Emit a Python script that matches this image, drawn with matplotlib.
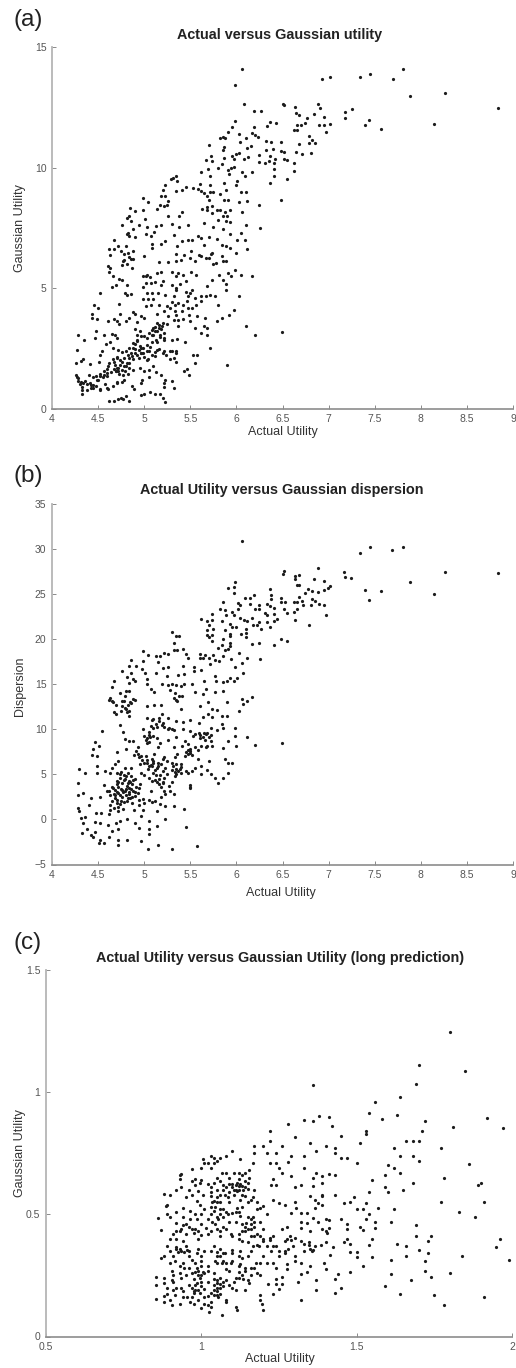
import matplotlib
matplotlib.use("Agg")
import matplotlib.pyplot as plt
import numpy as np

plt.rcParams['font.family'] = ['Liberation Sans', 'DejaVu Sans']

W, H = 516, 1368

# values, grouped by region of each panel
a_upper = [(6.06,14.08),(5.98,13.44),(6.93,13.69),(7.02,13.77),(7.34,13.77),(7.45,13.86),(7.70,13.68),(7.81,14.08),(7.88,12.96),(8.26,13.11),(8.84,12.48),(8.14,11.8),(7.57,11.61),(7.40,11.76),(7.44,11.97),(7.18,12.31),(7.25,12.41),(7.18,12.05),(6.08,12.62),(6.19,12.33),(6.27,12.36),(6.50,12.63),(6.52,12.59),(6.64,12.49),(6.65,12.27),(6.68,12.19),(6.89,12.62),(6.91,12.48),(6.84,12.23),(6.95,12.11),(6.77,12.04),(6.74,11.86),(6.70,11.76),(6.66,11.75),(6.90,11.75),(6.95,11.75),(7.02,11.82),(6.97,11.46),(5.98,11.94),(6.36,11.9),(6.43,11.86),(6.33,11.71),(6.19,11.69),(5.95,11.67),(5.91,11.47),(6.03,11.4),(6.17,11.45),(6.2,11.35),(6.23,11.27),(6.10,11.24),(5.82,11.24),(5.85,11.28),(5.88,11.23),(6.62,11.54),(6.66,11.54),(6.79,11.32),(6.82,11.13),(6.85,11.0),(6.79,11.03),(6.68,10.99),(6.04,11.05),(6.32,11.12),(6.38,11.05),(6.48,11.05),(5.70,10.92),(6.16,10.9),(6.11,10.8),(5.87,10.87),(5.86,10.73),(6.32,10.71),(6.40,10.76),(6.48,10.7),(6.52,10.66),(6.65,10.66),(6.71,10.55),(6.81,10.6),(6.24,10.52),(6.13,10.45),(6.03,10.59),(6.0,10.55),(5.95,10.48),(5.72,10.48),(5.73,10.28),(5.67,10.32),(5.87,10.39),(5.97,10.34),(6.08,10.34),(6.36,10.48),(6.42,10.36),(6.52,10.34),(6.55,10.32),(6.24,10.21),(6.31,10.18),(6.35,10.29),(6.41,10.18),(6.62,10.18),(6.63,9.86),(6.41,9.93),(6.41,9.66),(6.55,9.53),(6.36,9.34),(6.48,8.64),(6.24,8.46),(5.84,10.15),(5.80,10.0),(5.69,9.94),(5.62,9.83),(5.91,9.89),(5.94,9.97),(5.97,10.04),(6.17,9.81),(6.06,9.81),(6.09,9.66),(5.92,9.71),(5.71,9.63),(6.01,9.42),(6.0,9.27),(5.87,9.34),(5.71,9.28),(5.6,9.33),(5.34,9.63),(5.29,9.53),(5.31,9.56),(5.36,9.45),(5.23,9.27),(5.2,9.05),(5.18,8.8),(5.23,8.8),(5.26,8.61),(5.34,9.01),(5.41,9.05),(5.45,9.2),(5.53,9.15),(5.58,9.12),(5.62,9.04),(5.65,8.94),(5.68,8.8),(5.71,8.97),(5.75,9.0),(5.82,8.91),(5.89,9.05),(6.05,8.97),(6.10,8.98),(5.87,8.65),(5.91,8.65),(6.03,8.55),(6.12,8.59),(5.70,8.66)]
a_middle = [(4.99,8.73),(5.04,8.58),(4.85,8.32),(4.90,8.18),(4.99,8.25),(5.14,8.28),(5.17,8.43),(5.21,8.41),(5.25,8.43),(4.83,7.97),(4.81,7.9),(4.86,7.8),(5.01,7.87),(5.26,7.98),(5.38,8.0),(5.41,8.17),(4.76,7.62),(4.94,7.6),(5.03,7.53),(5.13,7.56),(5.18,7.62),(5.30,7.66),(5.38,7.53),(5.47,7.62),(4.88,7.44),(5.63,8.28),(5.68,8.36),(5.73,8.39),(5.68,8.22),(5.79,8.25),(5.82,8.22),(5.93,8.25),(5.73,8.11),(5.88,8.14),(6.06,8.15),(5.90,7.98),(5.85,7.98),(5.93,7.73),(5.80,7.84),(5.65,7.7),(5.89,7.77),(6.10,7.6),(6.26,7.5),(5.75,7.53),(5.85,7.45),(5.93,7.24),(4.81,7.24),(4.84,7.15),(4.90,7.1),(5.02,7.22),(5.07,7.15),(5.11,7.33),(5.32,7.19),(5.23,6.94),(5.18,6.83),(5.41,6.94),(5.47,6.98),(5.52,7.0),(5.58,7.17),(5.62,7.08),(5.70,7.12),(5.79,7.05),(6.01,6.98),(6.09,6.98),(6.05,7.29),(4.67,6.98),(5.08,6.83),(5.08,6.66),(5.84,6.8),(5.89,6.73),(5.93,6.66),(6.12,6.63),(5.36,6.73),(5.65,6.77),(6.0,6.45),(5.74,6.45),(5.34,6.41),(5.43,6.38),(5.51,6.55),(5.59,6.38),(5.62,6.32),(5.67,6.25),(5.55,6.11),(5.5,6.25),(5.84,6.32),(5.85,6.11),(5.89,6.11),(5.16,6.08),(5.26,6.08),(5.34,6.13),(5.40,6.18),(5.0,6.32),(4.62,6.63),(4.67,6.63),(4.72,6.73),(4.80,6.73),(4.75,6.52),(4.82,6.45),(4.88,6.55),(4.63,6.36),(4.88,6.22),(4.78,6.18),(4.76,5.97),(4.81,6.0),(4.87,5.83),(4.61,5.93),(4.63,5.83),(4.62,5.65),(4.66,5.48),(4.73,5.37),(4.76,5.35),(4.69,5.14),(4.65,5.04),(4.81,5.14),(4.52,4.81),(4.79,4.79),(4.81,4.72),(4.86,4.75),(4.73,4.34),(4.46,4.31),(4.5,4.17),(4.43,3.92),(4.43,3.75),(4.49,3.71),(4.61,3.62),(4.67,3.73),(4.71,3.62),(4.73,3.5),(4.80,3.62),(4.74,3.92),(4.88,4.0),(4.9,3.92),(4.83,3.75),(4.96,3.82),(5.0,3.75),(4.92,3.59),(4.99,5.48),(5.03,5.55),(5.06,5.44),(5.14,5.62),(5.18,5.65),(5.02,5.21),(5.07,5.21),(5.12,5.25),(5.18,5.11),(4.99,5.03),(5.03,4.79),(5.09,4.79),(4.99,4.56),(5.04,4.56),(5.10,4.56),(5.02,4.24),(5.07,4.31),(5.16,4.31),(5.30,5.65),(5.34,5.48),(5.37,5.62),(5.42,5.55),(5.51,5.65),(5.56,5.55),(5.30,5.14),(5.39,5.17),(5.45,5.28),(5.34,4.93),(5.32,4.65),(5.23,4.72),(5.50,4.79),(5.48,4.65),(5.52,4.93),(5.33,4.31),(5.37,4.38),(5.25,4.24),(5.21,4.03),(5.28,4.17),(5.46,4.45),(5.52,4.17),(5.48,4.17),(5.41,4.03),(5.33,4.06),(5.14,3.92),(5.26,3.82),(5.32,3.68),(5.37,3.68),(5.42,3.71),(5.49,3.89),(5.50,3.62),(5.37,3.43),(5.57,3.85),(5.66,3.75),(5.56,4.31),(5.62,4.47),(5.62,4.65),(5.67,4.65),(5.71,4.7),(5.77,4.65),(5.80,4.28),(5.68,5.07),(5.73,5.35),(5.81,5.55),(5.86,5.35),(5.91,5.62),(5.94,5.48),(5.99,5.73),(6.05,5.53),(6.17,5.51),(5.89,5.17),(5.89,4.93),(6.03,4.68),(5.97,4.1),(5.92,3.89),(5.84,3.75),(5.79,3.62),(6.10,3.41),(6.20,3.03),(6.49,3.16),(5.71,2.53),(5.90,1.79),(5.68,3.34),(5.62,3.13),(5.68,3.06),(5.65,3.41),(5.55,3.36),(5.44,2.78),(5.53,2.2),(5.57,2.23),(5.55,1.88),(5.46,1.65),(5.43,1.56),(5.49,1.4),(5.34,1.92)]
a_lower = [(4.28,3.03),(4.35,2.83),(4.27,2.44),(4.48,3.23),(4.47,2.92),(4.56,3.03),(4.65,3.09),(4.68,3.06),(4.71,2.92),(4.59,2.67),(4.63,2.76),(4.54,2.4),(4.52,2.2),(4.31,1.98),(4.34,2.05),(4.26,1.88),(4.41,1.84),(4.51,1.95),(4.66,2.5),(4.72,2.42),(4.76,2.36),(4.8,2.4),(4.84,2.5),(4.88,2.7),(4.92,2.8),(4.95,2.6),(4.99,2.5),(5.03,2.4),(5.06,2.55),(4.9,2.45),(4.86,2.3),(4.82,2.2),(4.78,2.1),(4.74,2.0),(4.7,2.15),(4.66,2.05),(4.62,1.9),(4.68,1.8),(4.72,1.7),(4.76,1.6),(4.8,1.75),(4.84,1.9),(4.88,2.05),(4.92,2.2),(4.96,2.3),(5.0,2.15),(5.04,2.05),(5.08,2.2),(5.12,2.35),(5.16,2.45),(5.2,2.3),(5.24,2.2),(5.3,2.4),(5.34,2.3),(5.32,2.1),(5.28,2.05),(5.0,3.0),(5.05,3.15),(5.1,3.05),(5.14,3.2),(5.18,3.3),(5.22,3.15),(5.16,3.45),(5.2,3.55),(5.12,3.4),(5.08,3.25),(4.95,3.2),(4.92,3.05),(4.9,3.3),(5.25,3.5),(5.13,2.85),(5.17,2.95),(5.09,2.75),(5.22,2.85),(5.3,2.85),(5.36,2.9),(4.6,1.65),(4.56,1.55),(4.52,1.45),(4.48,1.35),(4.44,1.3),(4.5,1.2),(4.55,1.3),(4.6,1.35),(4.64,1.5),(4.69,1.55),(4.73,1.45),(4.77,1.4),(4.82,1.45),(4.88,1.6),(4.95,1.7),(5.0,1.55),(5.05,1.6),(5.1,1.75),(5.13,1.5),(5.18,1.4),(5.05,1.3),(4.98,1.2),(4.96,1.05),(4.87,0.95),(4.89,0.8),(4.27,1.3),(4.28,1.15),(4.3,1.0),(4.33,0.9),(4.36,1.15),(4.4,1.4),(4.41,1.05),(4.44,0.85),(4.38,0.75),(4.32,0.6),(4.48,0.95),(4.52,0.8),(4.57,1.0),(4.61,0.8),(4.7,1.05),(4.76,1.1),(4.66,0.95),(4.62,0.32),(4.67,0.33),(4.72,0.4),(4.75,0.45),(4.77,0.38),(4.8,0.5),(4.84,0.33),(4.97,0.55),(5.0,0.6),(5.06,0.68),(5.12,0.6),(5.17,0.6),(5.2,0.45),(5.23,0.28),(5.22,0.9),(5.22,1.05),(5.23,1.2),(5.3,1.15),(5.32,0.85)]
a_core = [(4.52,1.33),(4.56,1.40),(4.60,1.47),(4.49,1.19),(4.45,0.98),(4.42,0.98),(4.38,1.01),(4.34,1.05),(4.31,1.12),(4.28,1.26),(4.26,1.37),(4.67,1.65),(4.70,1.68),(4.74,1.81),(4.69,1.54),(4.72,1.54),(4.78,1.75),(4.81,1.88),(4.76,1.95),(4.70,2.09),(4.67,1.95),(4.61,1.75),(4.83,2.09),(4.87,2.16),(4.90,2.3),(4.94,2.44),(4.97,2.51),(4.96,2.3),(4.88,2.51),(4.90,2.67),(4.92,2.85),(4.96,2.99),(5.03,2.92),(5.08,3.06),(5.12,3.2),(5.16,3.34),(5.19,3.41),(5.14,3.55),(5.10,3.34),(5.17,3.06),(5.21,2.92),(5.14,2.78),(5.03,2.65),(4.99,2.3),(5.05,2.37),(5.14,2.44),(5.21,2.4),(5.28,2.37),(5.34,2.4),(5.12,2.16),(5.03,2.02),(4.94,2.09),(4.83,1.68),(4.79,1.54),(4.78,1.19),(4.70,1.12),(4.60,0.84),(4.52,0.78),(4.42,0.84),(4.32,0.78),(5.15,4.8),(5.2,5.3),(5.35,5.0),(5.3,4.4),(5.42,4.3),(5.35,3.9),(5.55,4.6),(5.45,4.85),(5.02,5.5),(4.77,6.1),(4.83,6.3),(4.78,6.4),(4.86,6.2),(4.82,7.3),(5.72,6.4),(5.7,6.25),(5.78,6.05),(5.75,6.0)]

b_upper = [(6.06,30.9),(7.34,29.6),(7.45,30.2),(7.69,29.9),(7.81,30.2),(7.17,27.5),(7.18,26.9),(7.24,26.8),(7.88,26.3),(8.26,27.5),(8.84,27.3),(7.39,25.5),(7.44,24.4),(7.57,25.4),(8.14,25.0),(6.89,27.9),(6.84,26.7),(6.95,26.5),(6.52,27.6),(6.51,27.2),(6.68,27.1),(6.64,27.0),(6.64,26.7),(6.66,26.0),(6.68,26.0),(5.98,26.3),(5.91,25.7),(5.97,25.8),(5.97,25.1),(6.36,25.6),(7.02,25.9),(6.99,25.7),(6.95,25.5),(6.89,25.2),(6.78,25.6),(6.82,25.4),(6.74,25.1),(6.68,24.7),(6.38,24.9),(6.38,24.5),(6.19,24.9),(6.15,24.6),(6.09,24.6),(6.48,24.6),(6.82,24.5),(6.85,24.2),(5.86,24.1),(6.02,24.0),(6.04,23.8),(6.53,24.1),(6.48,24.1),(6.62,24.1),(6.66,24.1),(6.71,24.2),(6.72,23.8),(6.81,23.8),(6.90,23.9),(6.95,23.8),(6.33,23.9),(6.15,23.9),(6.24,23.8),(6.36,23.7),(6.41,23.5),(5.82,23.3),(5.88,23.2),(6.02,23.3),(6.2,23.4),(6.24,23.3),(6.52,23.3),(6.66,23.3),(6.62,23.0),(5.95,23.0),(5.73,22.8),(5.89,22.7),(5.97,22.7),(6.31,22.9),(6.33,22.7),(6.41,22.8),(6.55,22.9),(6.97,22.7),(6.17,22.4),(5.62,22.2),(5.68,22.0),(5.73,22.1),(5.84,22.0),(6.04,22.4),(6.08,22.1),(6.12,22.0),(6.44,22.2),(6.41,22.0),(6.64,22.1),(6.25,21.9),(6.33,21.9),(5.93,21.7),(5.70,21.6),(6.18,21.6),(6.22,21.6),(6.36,21.4),(6.79,21.6),(6.0,21.3),(5.95,21.3),(6.27,21.1),(5.88,21.0),(6.1,21.1),(5.68,21.0),(5.75,21.1),(5.30,20.8),(5.68,20.5),(5.73,20.5),(5.93,20.6),(6.05,20.6),(6.10,20.7),(5.34,20.3),(5.38,20.3),(5.70,20.2),(6.1,20.2),(5.93,20.3),(5.73,19.8),(5.32,19.6),(6.48,20.0),(6.55,19.8),(5.85,20.0),(6.17,19.5),(6.25,19.6),(6.41,19.4),(5.93,19.6),(5.84,19.3),(5.93,19.2),(5.80,19.0),(5.88,18.8),(4.99,18.7),(5.32,18.8),(5.36,18.8),(5.42,18.9),(5.91,18.9),(5.04,18.3),(5.21,18.5),(5.26,18.4),(5.45,18.4),(5.60,18.4),(6.03,18.5),(5.13,18.1),(5.17,18.1),(5.75,18.2),(5.66,18.2),(5.48,17.9),(5.60,17.9),(5.64,17.9),(5.70,17.9),(5.86,18.1),(6.12,17.9),(5.94,17.8),(4.86,17.7),(4.99,17.6),(5.15,17.5),(5.77,17.7),(5.81,17.6),(5.71,17.3),(6.06,17.4),(6.26,17.8),(4.83,17.0),(4.91,17.0),(5.20,16.8),(5.26,16.9),(5.42,17.0),(5.98,16.9),(5.54,16.9),(5.62,16.6),(5.54,16.5),(4.76,16.5),(4.86,16.3),(4.98,16.7),(5.01,16.3),(5.13,16.2),(5.43,16.1),(5.37,16.0),(5.25,15.9),(5.77,15.9),(6.07,16.2),(5.93,15.7),(6.01,15.7),(4.81,15.8),(4.88,15.6),(5.03,15.6)]
b_middle = [(4.67,15.4),(4.83,15.1),(4.90,15.4),(5.03,15.0),(5.19,15.0),(5.26,14.9),(5.34,14.9),(5.43,15.0),(5.52,15.0),(4.65,14.7),(5.07,14.5),(5.28,14.4),(4.83,14.3),(5.67,14.5),(4.74,14.0),(5.11,14.1),(5.55,14.1),(5.77,14.1),(5.86,14.3),(4.63,13.5),(4.79,13.7),(5.32,13.5),(5.41,13.7),(5.64,13.9),(6.06,13.4),(6.17,13.6),(6.11,13.1),(4.65,13.1),(4.76,13.1),(4.90,13.3),(5.36,13.1),(5.90,13.0),(5.69,13.0),(6.07,12.8),(4.69,12.7),(4.79,12.4),(4.86,12.9),(5.03,12.6),(5.11,12.7),(5.18,12.7),(5.60,12.6),(5.40,12.3),(5.74,12.2),(5.79,12.1),(4.81,11.9),(4.67,11.9),(6.03,12.0),(4.69,11.7),(5.19,11.7),(4.83,11.5),(5.69,11.7),(5.84,11.5),(5.9,11.5),(5.26,11.2),(5.03,11.3),(5.10,11.1),(5.16,11.2),(5.64,11.4),(5.73,11.4),(5.5,11.0),(5.34,10.9),(5.42,10.8),(5.84,10.6),(5.59,10.7),(4.74,10.5),(5.07,10.4),(5.19,10.5),(5.72,10.2),(5.86,10.1),(5.98,10.1),(4.54,9.8),(4.77,9.7),(4.99,10.0),(5.26,10.0),(5.32,9.9),(5.5,9.8),(5.59,9.6),(5.68,9.6),(5.79,9.9),(5.05,9.4),(5.53,9.3),(5.99,9.3),(6.11,9.2),(5.35,9.2),(5.03,9.0),(5.64,9.2),(5.14,9.0),(5.26,8.8),(4.79,8.9),(4.84,8.7),(4.88,8.7),(4.47,8.6),(5.72,8.7),(5.91,8.7),(5.03,8.5),(5.17,8.5),(5.44,8.7),(6.49,8.5),(6.20,8.3),(4.51,8.1),(6.0,8.1),(4.93,8.0),(5.32,8.0),(5.15,8.0),(5.41,8.1),(5.67,8.0),(5.73,8.1),(5.62,8.1),(4.80,7.8),(5.85,7.9),(4.45,7.8),(5.5,7.6),(4.91,7.6),(5.58,7.7),(4.70,7.5),(5.11,7.3),(5.36,7.3),(5.48,7.3),(4.43,7.2),(4.49,7.0),(4.89,7.2),(4.97,7.0),(5.21,6.9),(5.33,6.9),(5.88,6.7),(4.72,6.5),(5.03,6.6),(5.10,6.5),(5.70,6.5),(5.58,6.7),(5.91,6.3),(5.95,6.3),(4.68,6.2),(5.15,6.3),(4.95,6.1),(5.05,5.9),(5.31,5.9),(5.62,5.9),(4.29,5.6),(4.49,5.9),(4.65,5.7),(4.79,5.7),(4.86,5.7),(5.14,5.7),(5.35,5.6),(5.39,5.6),(5.55,5.7),(5.68,5.5),(4.57,5.4),(4.36,5.1),(4.49,5.1),(4.63,5.2),(4.74,5.0),(4.96,5.2),(5.1,5.2),(5.48,5.2),(5.62,5.0),(5.72,5.0),(5.91,5.1),(5.86,4.6),(5.77,4.6),(4.79,4.5),(4.88,4.4),(5.12,4.4),(5.21,4.6),(5.80,4.0)]
b_lower = [(4.28,4.0),(4.56,3.8),(4.72,4.1),(4.81,3.7),(5.16,3.9),(5.27,3.7),(5.5,3.6),(4.94,3.5),(4.76,3.3),(4.62,3.1),(5.07,3.1),(5.32,2.8),(5.23,2.8),(4.67,2.8),(4.28,2.7),(4.34,2.9),(4.52,2.5),(4.83,2.8),(4.99,2.3),(4.71,2.2),(4.42,2.4),(4.81,2.1),(5.08,1.9),(5.17,1.7),(4.40,1.6),(4.63,1.6),(4.74,1.7),(5.23,1.5),(5.32,1.5),(5.43,1.2),(4.28,1.3),(4.63,1.1),(4.89,1.1),(4.99,1.0),(4.29,0.9),(4.48,0.7),(4.53,0.7),(5.14,0.9),(4.62,0.6),(4.31,0.2),(4.36,0.3),(4.96,0.4),(5.05,-0.2),(5.23,0.0),(4.47,-0.3),(4.52,-0.4),(4.61,-0.6),(4.69,-0.4),(4.74,-0.2),(4.81,0.0),(4.90,-0.4),(5.14,-0.7),(5.45,-0.8),(4.94,-0.9),(4.34,-0.4),(4.65,-1.3),(4.72,-1.1),(5.05,-1.1),(4.38,-1.1),(4.32,-1.5),(4.47,-1.4),(4.42,-1.7),(4.45,-1.9),(5.05,-1.6),(4.62,-1.9),(4.52,-2.3),(4.56,-2.6),(4.51,-2.6),(4.72,-2.3),(4.72,-2.8),(4.81,-2.3),(4.96,-2.4),(5.15,-2.8),(5.57,-2.9),(5.04,-3.3),(5.30,-3.3),(4.7,4.3),(4.74,4.6),(4.78,4.9),(4.82,5.2),(4.86,4.8),(4.9,4.5),(4.84,4.3),(4.76,4.0),(4.72,3.6),(4.68,3.3),(4.65,3.6),(4.75,3.4),(4.79,3.2),(4.83,3.5),(4.87,3.9),(4.91,3.6),(4.95,3.9),(4.88,3.2),(4.84,3.0),(4.8,2.7),(4.76,2.5),(4.72,2.9),(4.68,2.4),(4.65,2.1),(4.85,2.4),(4.9,2.6),(4.94,2.2),(4.78,1.9),(4.72,1.4),(5.1,6.3),(5.15,5.9),(5.2,5.4),(5.25,5.0),(5.3,5.5),(5.33,5.3),(5.37,5.4),(5.4,5.8),(5.35,6.1),(5.3,6.3),(5.25,6.5),(5.2,6.7),(5.13,4.9),(5.16,4.5),(5.2,4.2),(5.18,3.6),(5.09,4.3),(5.05,4.6),(5.0,4.9),(5.04,5.6),(5.09,5.9),(4.98,6.6),(4.93,7.3),(4.94,6.9),(5.0,6.3),(5.47,7.7),(5.5,7.4),(5.52,7.1),(5.44,7.0),(5.5,3.5),(5.5,3.8),(5.6,9.4),(5.65,9.6),(5.7,9.1),(5.66,8.8),(5.06,9.2),(5.02,8.8),(5.05,9.7),(5.1,10.2),(5.13,10.6),(5.16,10.9),(5.2,10.7),(4.8,12.3),(4.82,12.7),(4.78,13.1),(4.84,12.0),(4.76,12.6)]
b_core = [(4.7,5.1),(4.75,5.3),(4.8,4.8),(4.85,4.2),(4.78,4.4),(4.7,3.9),(4.66,3.5),(4.6,3.2),(4.63,2.7),(4.68,2.7),(4.7,3.0),(4.74,2.7),(4.77,3.0),(4.8,3.4),(4.82,4.0),(4.86,3.4),(4.9,3.0),(4.93,2.9),(4.87,2.5),(4.82,2.4),(4.75,2.1),(4.7,1.8),(4.67,1.3),(4.72,0.9),(4.77,1.2),(4.87,1.8),(4.94,1.6),(5.0,1.8),(5.05,2.2),(5.12,2.1),(5.18,2.5),(5.22,3.1),(5.28,3.2),(5.3,4.2),(5.2,4.0),(5.14,4.2),(5.17,4.9),(5.12,5.5),(5.07,6.0),(5.03,6.3),(5.02,7.0),(5.08,6.7),(5.18,6.2),(5.23,5.7),(5.35,5.0),(5.4,5.2),(5.33,4.8),(5.45,5.4),(5.52,5.4),(5.4,6.2),(5.45,7.5),(5.5,7.8),(5.55,8.0),(5.48,8.4),(5.55,9.5),(5.6,9.0),(5.67,9.5),(5.72,9.4),(5.68,8.1),(5.42,10.0),(5.3,10.0),(5.27,10.1),(5.1,9.3),(5.05,8.6),(5.0,9.3),(5.08,11.0),(5.14,10.3),(5.22,10.3),(4.75,12.0),(4.85,13.0),(4.88,13.4),(4.8,14.2),(5.34,13.3),(5.38,13.7),(5.33,14.0),(5.4,14.8),(5.3,15.0),(5.65,15.4),(5.78,15.4),(5.85,15.2),(5.9,15.4),(5.97,15.4),(4.62,13.3),(4.66,13.0)]

c_upper = [(1.80,1.246),(1.70,1.11),(1.85,1.087),(1.36,1.03),(1.69,1.034),(1.64,0.98),(1.56,0.96),(1.54,0.914),(1.63,0.906),(1.58,0.89),(1.72,0.88),(1.41,0.90),(1.38,0.902),(1.33,0.885),(1.36,0.882),(1.28,0.868),(1.42,0.861),(1.22,0.842),(1.71,0.84),(1.53,0.84),(1.53,0.83),(1.81,0.856),(1.92,0.894),(1.97,0.852),(1.30,0.817),(1.45,0.822)]
c_right = [(1.51,0.79),(1.66,0.80),(1.68,0.80),(1.70,0.80),(1.35,0.79),(1.40,0.78),(1.62,0.77),(1.77,0.77),(1.17,0.78),(1.20,0.78),(1.22,0.80),(1.26,0.78),(1.37,0.76),(1.43,0.77),(1.43,0.75),(1.45,0.73),(1.47,0.73),(1.64,0.74),(1.68,0.74),(1.70,0.72),(1.50,0.71),(1.60,0.70),(1.86,0.705),(1.62,0.69),(1.64,0.67),(1.78,0.65),(1.55,0.64),(1.59,0.66),(1.68,0.63),(1.90,0.63),(1.89,0.62),(1.65,0.60),(1.59,0.61),(1.60,0.59),(1.54,0.59),(1.49,0.57),(1.91,0.55),(1.77,0.55),(1.53,0.545),(1.46,0.545),(1.48,0.55),(1.50,0.52),(1.52,0.52),(1.57,0.525),(1.62,0.52),(1.83,0.51),(1.88,0.49),(1.54,0.50),(1.53,0.48),(1.56,0.47),(1.45,0.48),(1.47,0.46),(1.61,0.47),(1.69,0.455),(1.51,0.45),(1.56,0.445),(1.47,0.44),(1.52,0.435),(1.55,0.40),(1.69,0.41),(1.74,0.41),(1.96,0.40),(1.73,0.39),(1.47,0.40),(1.63,0.38),(1.54,0.375),(1.66,0.37),(1.95,0.367),(1.46,0.385),(1.48,0.38),(1.70,0.355),(1.66,0.33),(1.73,0.34),(1.84,0.33),(1.55,0.325),(1.61,0.315),(1.99,0.315),(1.72,0.31),(1.50,0.325),(1.48,0.345),(1.50,0.345),(1.52,0.29),(1.48,0.265),(1.72,0.27),(1.80,0.26),(1.61,0.255),(1.74,0.245),(1.675,0.23),(1.59,0.205),(1.64,0.175),(1.75,0.17),(1.91,0.16),(1.78,0.13),(1.45,0.20),(1.43,0.18),(1.37,0.19),(1.37,0.23),(1.44,0.255),(1.43,0.235),(1.32,0.15)]
c_middle = [(1.17,0.75),(1.21,0.75),(1.24,0.75),(1.29,0.74),(1.28,0.715),(1.33,0.74),(1.33,0.69),(1.22,0.71),(1.24,0.71),(1.25,0.69),(1.26,0.67),(1.29,0.655),(1.37,0.67),(1.41,0.665),(1.43,0.66),(1.36,0.65),(1.39,0.655),(1.23,0.645),(1.225,0.62),(1.24,0.62),(1.30,0.61),(1.32,0.62),(1.39,0.63),(1.36,0.615),(1.43,0.58),(1.39,0.58),(1.35,0.575),(1.365,0.56),(1.39,0.575),(1.23,0.56),(1.25,0.545),(1.27,0.54),(1.30,0.55),(1.375,0.545),(1.39,0.54),(1.29,0.505),(1.305,0.525),(1.32,0.505),(1.34,0.505),(1.365,0.525),(1.32,0.47),(1.34,0.465),(1.36,0.485),(1.375,0.47),(1.40,0.48),(1.41,0.475),(1.275,0.45),(1.26,0.44),(1.32,0.445),(1.35,0.43),(1.39,0.44),(1.40,0.43),(1.41,0.445),(1.405,0.425),(1.23,0.41),(1.275,0.40),(1.30,0.405),(1.32,0.39),(1.345,0.375),(1.365,0.37),(1.385,0.375),(1.40,0.385),(1.425,0.365),(1.415,0.335),(1.295,0.37),(1.24,0.37),(1.225,0.35),(1.27,0.35),(1.30,0.33),(1.355,0.35),(1.21,0.30),(1.275,0.295),(1.30,0.31),(1.32,0.30),(1.35,0.29),(1.395,0.30),(1.40,0.275),(1.275,0.275),(1.24,0.28),(1.32,0.255),(1.34,0.265),(1.26,0.245),(1.24,0.235),(1.31,0.225),(1.26,0.215),(1.215,0.215),(1.24,0.215),(1.25,0.195),(1.23,0.175),(1.19,0.15),(1.195,0.135),(1.20,0.11),(1.19,0.17),(1.285,0.41),(1.29,0.395),(1.33,0.38),(1.345,0.385),(1.27,0.39)]
c_cluster = [(1.04,0.73),(1.005,0.725),(1.02,0.71),(1.04,0.71),(1.06,0.73),(1.10,0.76),(1.08,0.74),(1.125,0.725),(1.165,0.71),(1.0,0.69),(0.97,0.685),(0.935,0.665),(0.93,0.645),(0.97,0.635),(0.98,0.645),(0.995,0.63),(1.02,0.625),(1.065,0.67),(1.08,0.67),(1.105,0.67),(1.155,0.68),(1.155,0.65),(1.06,0.635),(1.12,0.645),(1.14,0.635),(1.15,0.63),(1.10,0.625),(1.12,0.615),(1.105,0.60),(1.115,0.595),(1.135,0.60),(1.08,0.61),(1.05,0.60),(1.06,0.58),(1.03,0.575),(1.04,0.555),(1.05,0.55),(0.99,0.595),(1.005,0.58),(0.97,0.58),(0.935,0.61),(0.92,0.60),(0.88,0.585),(0.90,0.58),(0.89,0.54),(0.885,0.535),(0.86,0.485),(0.87,0.435),(0.89,0.37),(0.985,0.555),(0.995,0.54),(1.14,0.575),(1.165,0.57),(1.18,0.55),(1.19,0.525),(1.20,0.535),(1.09,0.55),(1.115,0.525),(1.07,0.52),(1.04,0.515),(1.03,0.50),(1.06,0.50),(1.085,0.50),(1.125,0.495),(1.165,0.49),(1.21,0.50),(0.94,0.525),(0.965,0.515),(0.985,0.48),(0.965,0.48),(0.92,0.465),(1.055,0.48),(1.015,0.445),(1.045,0.46),(1.07,0.45),(1.145,0.465),(1.16,0.46),(1.15,0.44),(1.19,0.47),(1.20,0.44),(0.935,0.44),(0.975,0.425),(0.91,0.42),(0.99,0.40),(1.02,0.42),(1.06,0.41),(1.095,0.42),(1.12,0.40),(1.17,0.41),(1.19,0.41),(1.22,0.405),(0.92,0.365),(0.935,0.35),(0.955,0.355),(0.985,0.34),(1.01,0.35),(1.04,0.37),(1.07,0.34),(1.10,0.355),(1.125,0.35),(1.165,0.37),(1.185,0.37),(0.87,0.32),(0.88,0.33),(0.915,0.31),(0.97,0.315),(1.045,0.31),(1.065,0.30),(1.095,0.30),(1.125,0.295),(1.175,0.30),(0.905,0.27),(0.945,0.28),(0.985,0.28),(1.005,0.265),(1.04,0.26),(1.08,0.275),(1.12,0.265),(1.16,0.28),(1.18,0.26),(0.855,0.245),(0.88,0.24),(0.91,0.225),(0.935,0.24),(0.975,0.235),(0.995,0.24),(1.02,0.225),(1.05,0.22),(1.07,0.225),(1.105,0.225),(1.135,0.235),(1.155,0.22),(0.855,0.21),(0.88,0.22),(0.91,0.19),(0.94,0.185),(0.975,0.185),(0.995,0.18),(1.04,0.19),(1.06,0.2),(1.10,0.2),(1.14,0.19),(0.855,0.155),(0.88,0.165),(0.90,0.15),(0.905,0.13),(0.93,0.135),(0.965,0.14),(1.0,0.115),(1.02,0.13),(1.025,0.10),(1.065,0.09),(1.08,0.15),(1.115,0.11),(1.055,0.16),(1.02,0.165),(1.11,0.62),(1.125,0.625),(1.13,0.58),(1.09,0.59),(1.07,0.60),(1.04,0.63),(1.03,0.61),(1.05,0.65),(1.09,0.65),(1.13,0.66),(1.0,0.205),(0.98,0.21),(0.99,0.19),(0.97,0.2),(1.05,0.2),(1.04,0.21),(1.03,0.18),(1.05,0.17),(1.06,0.215),(0.99,0.27),(0.97,0.26),(1.0,0.25),(0.98,0.3),(1.0,0.31),(1.02,0.29),(1.05,0.345),(1.06,0.33),(1.07,0.31),(0.93,0.36),(0.95,0.37),(1.14,0.45),(1.16,0.48),(1.17,0.45),(1.15,0.49),(1.13,0.43),(1.11,0.47),(1.21,0.37),(1.2,0.39),(1.16,0.35),(1.15,0.33),(1.13,0.32),(1.1,0.31),(1.09,0.27),(1.14,0.27),(1.16,0.25),(1.12,0.24),(1.08,0.23),(1.11,0.19),(0.96,0.45),(0.98,0.44),(0.95,0.42),(1.0,0.46),(1.02,0.48),(1.01,0.52),(1.0,0.5),(1.07,0.49),(1.09,0.47),(1.11,0.51),(1.13,0.53),(1.15,0.55),(0.92,0.4),(0.94,0.39),(0.96,0.33),(0.9,0.3),(0.93,0.29),(0.95,0.25),(0.91,0.25),(0.89,0.2),(0.92,0.2),(0.96,0.21),(0.97,0.16),(0.94,0.16),(0.88,0.14),(1.01,0.16)]
c_core = [(1.11,0.60),(1.12,0.60),(1.13,0.615),(1.10,0.61),(1.115,0.63),(1.105,0.58),(1.14,0.61),(1.07,0.62),(1.075,0.58),(1.05,0.57),(1.035,0.55),(1.06,0.55),(1.03,0.59),(1.085,0.57),(1.09,0.625),(1.125,0.56),(1.15,0.605),(1.18,0.52),(1.16,0.56),(1.03,0.53),(1.045,0.53),(1.06,0.52),(1.08,0.51),(1.10,0.505),(1.12,0.51),(1.05,0.49),(1.035,0.47),(1.17,0.47),(1.14,0.43),(1.16,0.44),(1.13,0.46),(1.18,0.42),(1.2,0.40),(1.22,0.395),(1.05,0.44),(1.08,0.44),(0.93,0.43),(0.97,0.44),(0.94,0.455),(0.99,0.43),(1.0,0.415),(1.03,0.43),(1.06,0.43),(1.1,0.41),(1.13,0.39),(1.15,0.385),(1.18,0.375),(1.23,0.37),(1.25,0.35),(0.92,0.36),(0.945,0.345),(0.925,0.345),(0.96,0.35),(0.99,0.36),(1.03,0.35),(1.05,0.33),(1.075,0.34),(1.06,0.36),(1.1,0.34),(1.12,0.33),(0.98,0.265),(0.99,0.25),(1.0,0.29),(1.01,0.26),(1.02,0.27),(0.985,0.22),(1.0,0.225),(0.98,0.19),(0.975,0.18),(1.01,0.195),(1.05,0.23),(1.04,0.235),(1.06,0.24),(1.07,0.205),(1.05,0.185),(1.06,0.175),(1.04,0.17),(1.09,0.21),(1.11,0.24),(1.13,0.25),(1.14,0.28),(1.12,0.29),(1.08,0.30),(1.05,0.30),(1.0,0.33),(0.96,0.28),(0.93,0.26),(0.94,0.3),(0.90,0.35),(0.91,0.33),(0.905,0.23),(0.89,0.175),(0.915,0.17),(0.935,0.2),(0.955,0.16),(0.99,0.15),(0.975,0.135),(1.03,0.12),(1.01,0.135),(1.11,0.12),(1.08,0.14),(1.03,0.14),(0.9,0.4),(0.92,0.43),(0.89,0.50),(0.9,0.49),(0.92,0.51),(0.94,0.49),(0.95,0.46),(0.98,0.50),(0.98,0.62),(1.0,0.64),(0.96,0.6),(0.95,0.57),(0.93,0.66),(1.01,0.71),(1.03,0.69),(1.05,0.72),(1.03,0.74),(1.12,0.67),(1.14,0.67),(1.17,0.60),(1.12,0.42),(1.16,0.41),(1.2,0.33),(1.19,0.3),(1.17,0.28),(1.23,0.30),(1.25,0.33),(1.19,0.25),(1.15,0.23),(1.27,0.34),(1.33,0.35),(1.36,0.355),(1.35,0.36),(1.28,0.36)]

a_ticks_x = [4, 4.5, 5, 5.5, 6, 6.5, 7, 7.5, 8, 8.5, 9]
a_ticks_y = [0, 5, 10, 15]
b_ticks_y = [-5, 0, 5, 10, 15, 20, 25, 30, 35]
c_ticks_x = [0.5, 1, 1.5, 2]
c_ticks_y = [0, 0.5, 1, 1.5]


def px_axes(fig, left, top, right, bottom):
    return fig.add_axes([left / W, 1 - bottom / H, (right - left) / W, (bottom - top) / H])


def draw_panel(fig, box, groups, xlim, ylim, xticks, yticks):
    ax = px_axes(fig, *box)
    pts = np.array([p for g in groups for p in g])
    ax.plot(pts[:, 0], pts[:, 1], ls="none", marker="o", ms=2.3, mfc="#1c1c1c", mec="none", clip_on=False)
    ax.set_xlim(xlim)
    ax.set_ylim(ylim)
    ax.set_xticks(xticks)
    ax.set_yticks(yticks)
    ax.set_xticklabels([f"{t:g}" for t in xticks])
    ax.set_yticklabels([f"{t:g}".replace("-", "\u2212") for t in yticks])
    ax.tick_params(direction="in", length=3, width=0.6, color="#777777",
                   labelsize=7.5, labelcolor="#555555", pad=4)
    ax.spines["top"].set_visible(False)
    ax.spines["right"].set_visible(False)
    ax.spines["left"].set_color("#b5b5b5")
    ax.spines["left"].set_linewidth(1.3)
    ax.spines["bottom"].set_color("#8c8c8c")
    ax.spines["bottom"].set_linewidth(1.2)
    return ax


def put_text(fig, x, y, s, **kw):
    kw.setdefault("ha", "center")
    kw.setdefault("va", "center")
    fig.text(x / W, 1 - y / H, s, **kw)


fig = plt.figure(figsize=(W / 100, H / 100), dpi=100)

draw_panel(fig, (52, 47, 513, 408.5), [a_upper, a_middle, a_lower, a_core], (4, 9), (0, 15), a_ticks_x, a_ticks_y)
draw_panel(fig, (52, 504, 513, 864.5), [b_upper, b_middle, b_lower, b_core], (4, 9), (-5, 35), a_ticks_x, b_ticks_y)
draw_panel(fig, (46, 970, 512, 1336.5), [c_upper, c_right, c_middle, c_cluster, c_core], (0.5, 2), (0, 1.5), c_ticks_x, c_ticks_y)

label_color = "#333333"
put_text(fig, 28, 20, "(a)", fontsize=17.5, color="#222222")
put_text(fig, 28, 476, "(b)", fontsize=17.5, color="#222222")
put_text(fig, 28, 943, "(c)", fontsize=17.5, color="#222222")

put_text(fig, 280, 35, "Actual versus Gaussian utility", fontsize=10.4, fontweight="bold", color="#222222")
put_text(fig, 282, 490, "Actual Utility versus Gaussian dispersion", fontsize=10.4, fontweight="bold", color="#222222")
put_text(fig, 280, 958, "Actual Utility versus Gaussian Utility (long prediction)", fontsize=10.4, fontweight="bold", color="#222222")

put_text(fig, 283, 432, "Actual Utility", fontsize=9, color=label_color)
put_text(fig, 281, 893, "Actual Utility", fontsize=9, color=label_color)
put_text(fig, 280, 1359, "Actual Utility", fontsize=9, color=label_color)

put_text(fig, 20, 228, "Gaussian Utility", fontsize=9, color=label_color, rotation=90)
put_text(fig, 20, 686, "Dispersion", fontsize=9, color=label_color, rotation=90)
put_text(fig, 20, 1153, "Gaussian Utility", fontsize=9, color=label_color, rotation=90)

fig.savefig("out.png", dpi=100)
